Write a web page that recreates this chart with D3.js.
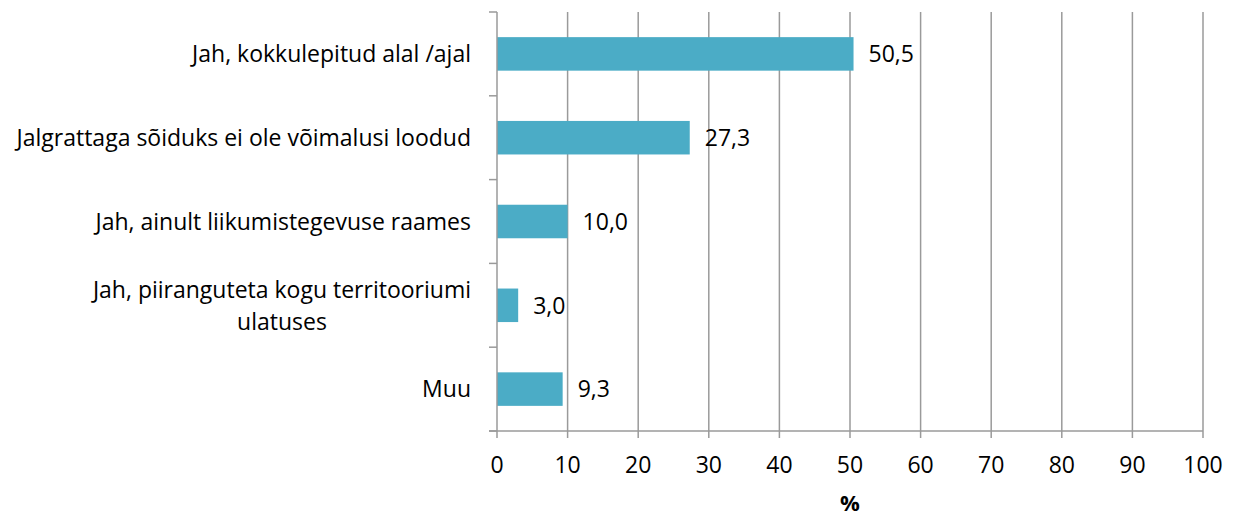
<!DOCTYPE html>
<html>
<head>
<meta charset="utf-8">
<script src="https://cdn.jsdelivr.net/npm/d3@7"></script>
<style>
  body { margin: 0; background: #fff; }
  svg { display: block; font-family: "Open Sans", "Liberation Sans", Arial, sans-serif; }
</style>
</head>
<body>
<svg id="chart" width="1234" height="516"></svg>
<script>
// --- data ---
const categories = [
  ["Jah, kokkulepitud alal /ajal"],
  ["Jalgrattaga sõiduks ei ole võimalusi loodud"],
  ["Jah, ainult liikumistegevuse raames"],
  ["Jah, piiranguteta kogu territooriumi", "ulatuses"],
  ["Muu"]
];
const values = [50.5, 27.3, 10.0, 3.0, 9.3];
const xTicks = [0, 10, 20, 30, 40, 50, 60, 70, 80, 90, 100];
const xTitle = "%";

// --- layout ---
const margin = { top: 12, left: 497, right: 31, bottom: 85 };
const W = 1234, H = 516;
const plotW = W - margin.left - margin.right;
const plotH = H - margin.top - margin.bottom;
const gridColor = "#9a9a9a";
const barColor = "#4BACC6";
const fs = 23;

const svg = d3.select("#chart");
const g = svg.append("g").attr("transform", `translate(${margin.left},${margin.top})`);

const x = d3.scaleLinear().domain([0, 100]).range([0, plotW]);
const y = d3.scaleBand().domain(d3.range(categories.length)).range([0, plotH]).paddingInner(0.6).paddingOuter(0.3);
const band = plotH / categories.length;

// vertical gridlines
g.selectAll(".grid").data(xTicks.slice(1)).enter().append("line")
  .attr("x1", d => x(d)).attr("x2", d => x(d))
  .attr("y1", 0).attr("y2", plotH + 7)
  .attr("stroke", gridColor).attr("stroke-width", 1.5);

// bars
g.selectAll(".bar").data(values).enter().append("rect")
  .attr("x", 0).attr("y", (d, i) => y(i))
  .attr("width", d => x(d)).attr("height", y.bandwidth())
  .attr("fill", barColor);

// value labels
g.selectAll(".val").data(values).enter().append("text")
  .attr("x", d => x(d) + 15).attr("y", (d, i) => y(i) + y.bandwidth() / 2)
  .attr("dy", "0.36em").attr("font-size", fs).attr("fill", "#000")
  .text(d => d.toFixed(1).replace(".", ","));

// left axis line and ticks at band boundaries
g.append("line").attr("x1", 0).attr("x2", 0).attr("y1", 0).attr("y2", plotH + 7)
  .attr("stroke", gridColor).attr("stroke-width", 1.5);
g.selectAll(".ytick").data(d3.range(categories.length + 1)).enter().append("line")
  .attr("x1", -8).attr("x2", 0).attr("y1", d => d * band).attr("y2", d => d * band)
  .attr("stroke", gridColor).attr("stroke-width", 1.5);

// bottom axis
g.append("line").attr("x1", -8).attr("x2", plotW).attr("y1", plotH).attr("y2", plotH)
  .attr("stroke", gridColor).attr("stroke-width", 1.5);
g.selectAll(".xlab").data(xTicks).enter().append("text")
  .attr("x", d => x(d)).attr("y", plotH + 42)
  .attr("text-anchor", "middle").attr("font-size", fs).attr("fill", "#000")
  .text(d => d);

g.append("text").attr("x", plotW / 2).attr("y", plotH + 80)
  .attr("text-anchor", "middle").attr("font-size", fs - 1).attr("font-weight", "bold")
  .text(xTitle);

// category labels: right-aligned block, lines centred within block
const labelRight = -26;
const lineH = 32;
categories.forEach((lines, i) => {
  const cy = y(i) + y.bandwidth() / 2;
  const t = g.append("text").attr("font-size", fs).attr("fill", "#000");
  const spans = lines.map((l, k) => t.append("tspan").text(l)
    .attr("y", cy + (k - (lines.length - 1) / 2) * lineH).attr("dy", "0.36em"));
  const maxW = d3.max(spans.map(s => s.node().getComputedTextLength()));
  spans.forEach(s => s.attr("x", labelRight - maxW / 2).attr("text-anchor", "middle"));
});
</script>
</body>
</html>
